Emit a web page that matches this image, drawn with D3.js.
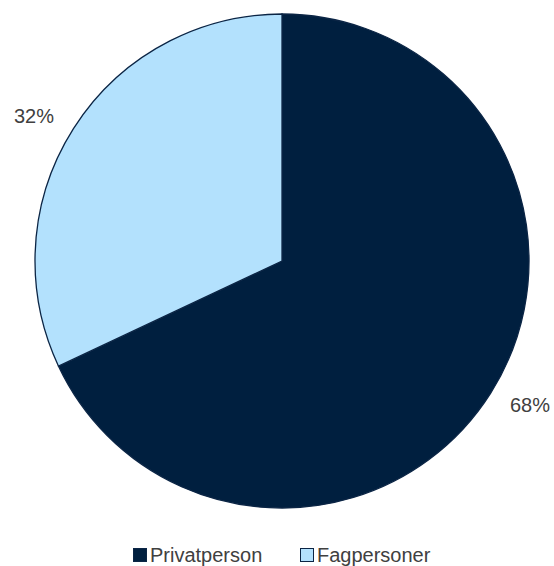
<!DOCTYPE html>
<html><head><meta charset="utf-8">
<script src="https://cdn.jsdelivr.net/npm/d3@7"></script>
<style>body{margin:0;background:#fff;}svg{display:block;}</style>
</head><body>
<script>
const categories = ["Privatperson", "Fagpersoner"];
const values = [68, 32];
const labels = ["68%", "32%"];
const colors = ["#001F3F", "#B3E1FD"];

const W = 554, H = 566, cx = 282, cy = 261, R = 247;
const FONT = "Liberation Sans, Arial, sans-serif";
const svg = d3.select("body").append("svg").attr("width", W).attr("height", H);
const g = svg.append("g").attr("transform", `translate(${cx},${cy})`);
const data = categories.map((c, i) => ({c, v: values[i], l: labels[i], col: colors[i]}));
const pie = d3.pie().value(d => d.v).sort(null);
const arc = d3.arc().innerRadius(0).outerRadius(R);
const lab = d3.arc().innerRadius(270).outerRadius(270);
const arcs = pie(data);
g.selectAll("path").data(arcs).join("path")
  .attr("d", arc).attr("fill", d => d.data.col)
  .attr("stroke", "#0B2545").attr("stroke-width", 1.3);
g.selectAll("text").data(arcs).join("text")
  .attr("transform", d => { const p = lab.centroid(d); return `translate(${p[0]},${p[1] + 1})`; })
  .attr("text-anchor", d => Math.sin((d.startAngle + d.endAngle) / 2) >= 0 ? "start" : "end")
  .attr("dominant-baseline", "middle")
  .attr("font-family", FONT).attr("font-size", 20)
  .attr("fill", "#404040").text(d => d.data.l);

const leg = svg.append("g").attr("font-family", FONT).attr("font-size", 20).attr("fill", "#404040");
const lx = [133, 300];
data.forEach((d, i) => {
  leg.append("rect").attr("x", lx[i] + 0.5).attr("y", 548.5).attr("width", 13).attr("height", 13)
    .attr("fill", d.col).attr("stroke", "#0B2545").attr("stroke-width", 1);
  leg.append("text").attr("x", lx[i] + 17).attr("y", 562).text(d.c);
});
</script>
</body></html>
